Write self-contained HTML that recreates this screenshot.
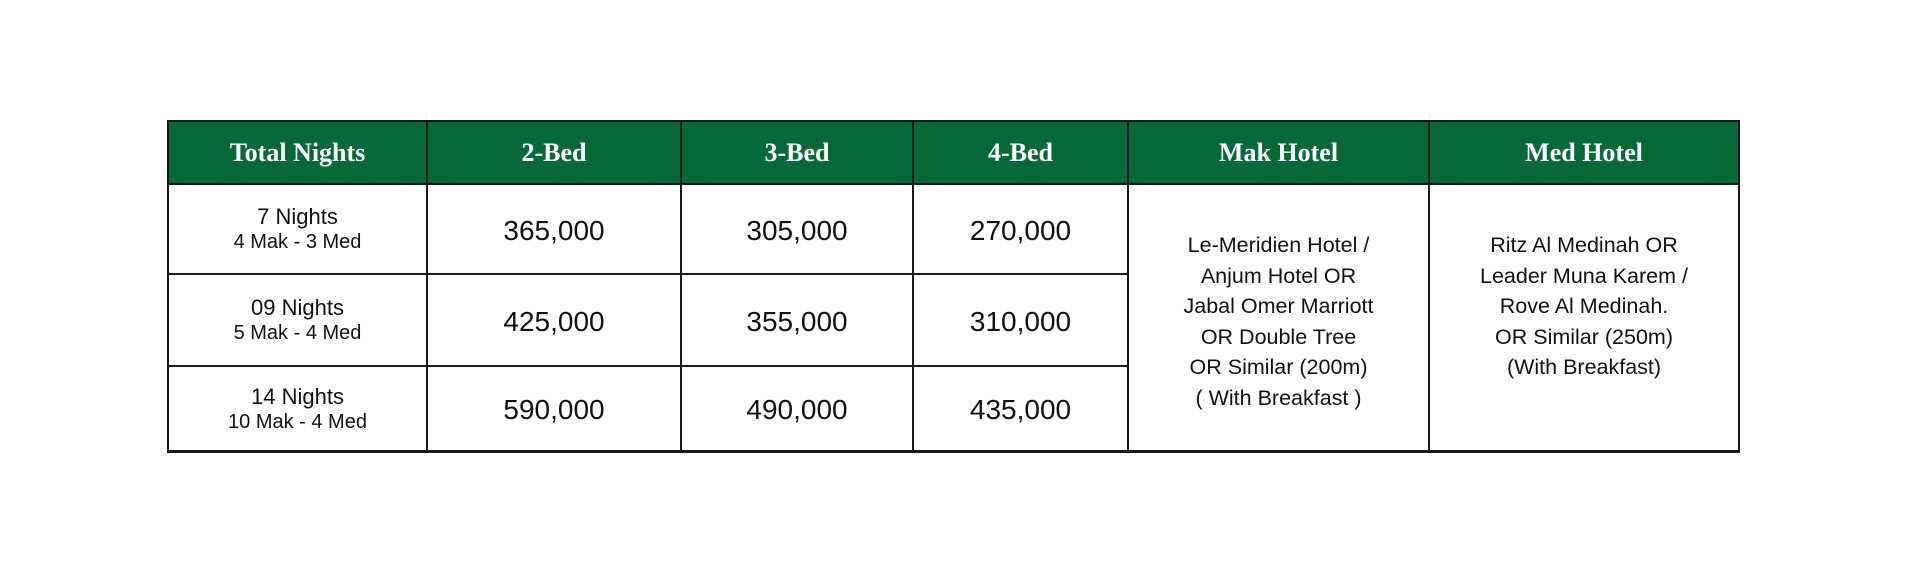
<!DOCTYPE html>
<html><head><style>
body{margin:0;width:1920px;height:580px;background:#fff;position:relative;overflow:hidden;font-family:"Liberation Sans",sans-serif;color:#111}
.c{position:absolute;box-sizing:border-box;display:flex;flex-direction:column;align-items:center;justify-content:center;text-align:center}
.h{background:#066937;color:#fff;font-family:"Liberation Serif",serif;font-weight:bold;font-size:26px}
.n{font-size:28px;padding-top:3px}
.t1{font-size:22px;line-height:27px}
.t2{font-size:20px;line-height:25px}
.ht{position:absolute;line-height:30.5px;text-align:center;font-family:"Liberation Sans",sans-serif;font-size:21.5px}
.vl{position:absolute;background:#1a1a1a;width:2px}
.hl{position:absolute;background:#1a1a1a;height:2px}
</style></head><body>
<div class="c h" style="left:168px;top:121px;width:259px;height:63px">Total Nights</div>
<div class="c h" style="left:427px;top:121px;width:254px;height:63px">2-Bed</div>
<div class="c h" style="left:681px;top:121px;width:232px;height:63px">3-Bed</div>
<div class="c h" style="left:913px;top:121px;width:215px;height:63px">4-Bed</div>
<div class="c h" style="left:1128px;top:121px;width:301px;height:63px">Mak Hotel</div>
<div class="c h" style="left:1429px;top:121px;width:310px;height:63px">Med Hotel</div>

<div class="c" style="left:168px;top:184px;width:259px;height:90px"><div class="t1">7 Nights</div><div class="t2">4 Mak - 3 Med</div></div>
<div class="c" style="left:168px;top:274px;width:259px;height:92px"><div class="t1">09 Nights</div><div class="t2">5 Mak - 4 Med</div></div>
<div class="c" style="left:168px;top:366px;width:259px;height:85px"><div class="t1">14 Nights</div><div class="t2">10 Mak - 4 Med</div></div>

<div class="c n" style="left:427px;top:184px;width:254px;height:90px">365,000</div>
<div class="c n" style="left:681px;top:184px;width:232px;height:90px">305,000</div>
<div class="c n" style="left:913px;top:184px;width:215px;height:90px">270,000</div>
<div class="c n" style="left:427px;top:274px;width:254px;height:92px">425,000</div>
<div class="c n" style="left:681px;top:274px;width:232px;height:92px">355,000</div>
<div class="c n" style="left:913px;top:274px;width:215px;height:92px">310,000</div>
<div class="c n" style="left:427px;top:366px;width:254px;height:85px">590,000</div>
<div class="c n" style="left:681px;top:366px;width:232px;height:85px">490,000</div>
<div class="c n" style="left:913px;top:366px;width:215px;height:85px">435,000</div>

<div class="ht" style="left:1128px;top:230px;width:301px">Le-Meridien Hotel /<br>Anjum Hotel OR<br>Jabal Omer Marriott<br>OR Double Tree<br>OR Similar (200m)<br>( With Breakfast )</div>
<div class="ht" style="left:1429px;top:230px;width:310px">Ritz Al Medinah OR<br>Leader Muna Karem /<br>Rove Al Medinah.<br>OR Similar (250m)<br>(With Breakfast)</div>

<div class="hl" style="left:167px;top:120px;width:1573px"></div>
<div class="hl" style="left:167px;top:183px;width:1573px"></div>
<div class="hl" style="left:167px;top:273px;width:962px"></div>
<div class="hl" style="left:167px;top:365px;width:962px"></div>
<div class="hl" style="left:167px;top:450px;width:1573px;height:3px"></div>
<div class="vl" style="left:167px;top:120px;height:332px"></div>
<div class="vl" style="left:426px;top:120px;height:332px"></div>
<div class="vl" style="left:680px;top:120px;height:332px"></div>
<div class="vl" style="left:912px;top:120px;height:332px"></div>
<div class="vl" style="left:1127px;top:120px;height:332px"></div>
<div class="vl" style="left:1428px;top:120px;height:332px"></div>
<div class="vl" style="left:1738px;top:120px;height:332px"></div>
</body></html>
